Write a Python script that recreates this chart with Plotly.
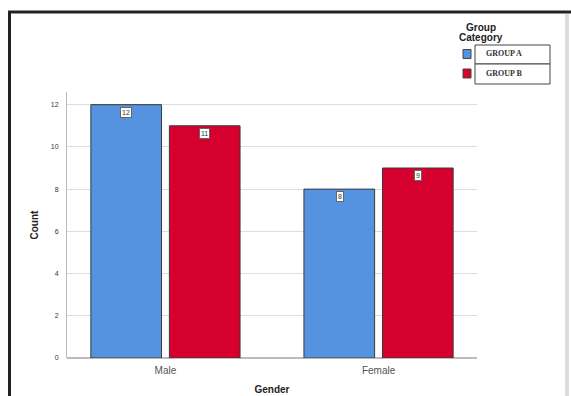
import plotly.graph_objects as go

categories = ["Male", "Female"]
series_names = ["GROUP A", "GROUP B"]
group_a = [12, 8]
group_b = [11, 9]
colors = ["#5592E0", "#D6002F"]
y_ticks = [0, 2, 4, 6, 8, 10, 12]

W, H = 571, 396
L, R, T, B = 67, 477, 92, 358  # plot area in pixels


def px(x):
    return (x - L) / (R - L)


def py(y):
    return (B - y) / (B - T)


fig = go.Figure()
for name, vals, col in zip(series_names, [group_a, group_b], colors):
    fig.add_trace(go.Bar(
        x=categories, y=vals, name=name,
        marker=dict(color=col, line=dict(color="#3a3a3a", width=1)),
        showlegend=False,
    ))

# value labels in small boxes at top of each bar
shifts = [-39, 39]
for vals, sh in zip([group_a, group_b], shifts):
    for c, v in zip(categories, vals):
        fig.add_annotation(
            x=c, y=v, xref="x", yref="y", text=str(v), showarrow=False,
            xshift=sh, yanchor="top", yshift=-2,
            font=dict(family="Arial, Liberation Sans", size=7, color="#333"),
            bgcolor="white", bordercolor="#666", borderwidth=1, borderpad=1,
        )

shapes = []
# frame lines
shapes.append(dict(type="line", xref="paper", yref="paper",
                   x0=px(8), x1=px(571), y0=py(12), y1=py(12),
                   line=dict(color="#222", width=3)))
shapes.append(dict(type="line", xref="paper", yref="paper",
                   x0=px(9.5), x1=px(9.5), y0=py(11), y1=py(400),
                   line=dict(color="#222", width=3)))
shapes.append(dict(type="line", xref="paper", yref="paper",
                   x0=px(567), x1=px(567), y0=py(14), y1=py(400),
                   line=dict(color="#dcdcdc", width=4)))

# custom legend
fig.add_annotation(xref="paper", yref="paper", x=px(481), y=py(20),
                   text="<b>Group</b>", showarrow=False,
                   xanchor="center", yanchor="top", align="center",
                   font=dict(family="Arial, Liberation Sans", size=10, color="#222"))
fig.add_annotation(xref="paper", yref="paper", x=px(481), y=py(30),
                   text="<b>Category</b>", showarrow=False,
                   xanchor="center", yanchor="top", align="center",
                   font=dict(family="Arial, Liberation Sans", size=10, color="#222"))
rows = [(45, 64), (64, 84)]
for (y0, y1), name, col in zip(rows, series_names, colors):
    shapes.append(dict(type="rect", xref="paper", yref="paper",
                       x0=px(475), x1=px(550), y0=py(y1), y1=py(y0),
                       line=dict(color="#444", width=1), fillcolor="white"))
    cy = (y0 + y1) / 2
    shapes.append(dict(type="rect", xref="paper", yref="paper",
                       x0=px(463), x1=px(471), y0=py(cy - 5), y1=py(cy + 4),
                       line=dict(color="#444", width=1), fillcolor=col))
    fig.add_annotation(xref="paper", yref="paper", x=px(484), y=py(cy - 1),
                       text="<b>" + name + "</b>", showarrow=False,
                       xanchor="left", yanchor="middle",
                       font=dict(family="Liberation Serif, Times New Roman", size=8, color="#333"))

fig.update_layout(
    width=W, height=H,
    margin=dict(l=L, r=W - R, t=T, b=H - B, pad=0, autoexpand=False),
    paper_bgcolor="white", plot_bgcolor="white",
    barmode="group", bargap=0.263, bargroupgap=0.1,
    shapes=shapes,
    xaxis=dict(
        type="category", range=[-0.462, 1.462], automargin=False,
        showgrid=False, showline=False, ticks="",
        ticklabelstandoff=5,
        tickfont=dict(family="Arial, Liberation Sans", size=10, color="#555"),
        title=dict(text="<b>Gender</b>", standoff=10,
                   font=dict(family="Arial, Liberation Sans", size=10, color="#222")),
    ),
    yaxis=dict(
        range=[0, 12.6], tickvals=y_ticks, automargin=False,
        showgrid=True, gridcolor="#dddddd", gridwidth=1,
        showline=True, linecolor="#bbbbbb", linewidth=1,
        zeroline=True, zerolinecolor="#bbbbbb", zerolinewidth=2,
        ticks="", ticklabelstandoff=6,
        tickfont=dict(family="Arial, Liberation Sans", size=7, color="#333"),
        title=dict(text="<b>Count</b>", standoff=10,
                   font=dict(family="Arial, Liberation Sans", size=10, color="#222")),
    ),
)

fig.write_html("out.html")
